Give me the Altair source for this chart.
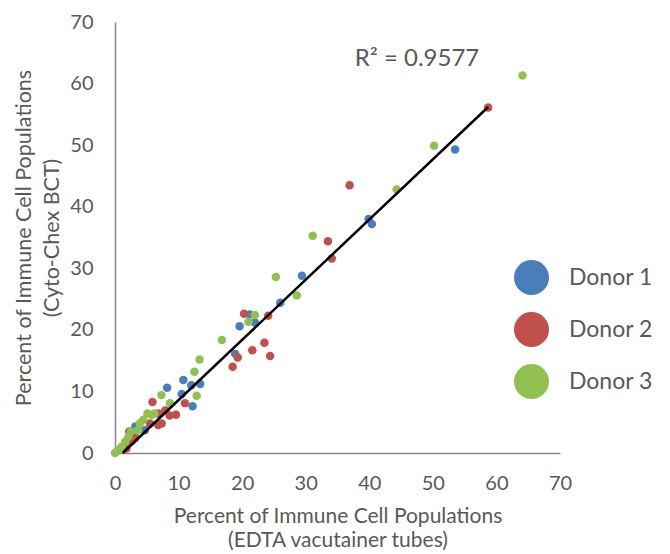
import altair as alt
import pandas as pd

donors = ["Donor 1", "Donor 2", "Donor 3"]
colors = ["#4A7EBB", "#C0504D", "#92C050"]

d1_x = [53.5, 39.9, 40.4, 29.4, 26.0, 21.2, 22.0, 19.6, 18.9, 10.75, 12.0, 13.4, 8.2, 10.5, 12.2, 3.2, 4.7]
d1_y = [49.3, 38.0, 37.2, 28.8, 24.4, 22.5, 21.2, 20.6, 16.1, 11.85, 11.0, 11.2, 10.6, 9.6, 7.6, 4.3, 3.7]

d2_x = [58.7, 36.9, 33.5, 34.1, 20.3, 24.1, 23.5, 21.6, 24.4, 19.3, 18.5, 5.9, 11.0, 7.9, 9.6, 8.6, 6.8,
        7.35, 6.8, 5.5, 2.25, 3.1, 3.15, 2.6, 1.8]
d2_y = [56.1, 43.5, 34.4, 31.6, 22.6, 22.3, 17.9, 16.7, 15.75, 15.5, 14.0, 8.3, 8.1, 6.9, 6.2, 6.1, 6.4,
        4.8, 4.55, 4.8, 3.5, 2.65, 2.4, 1.85, 0.75]

d3_x = [64.1, 50.2, 44.3, 31.1, 25.3, 28.6, 22.0, 21.0, 16.8, 13.3, 12.5, 7.3, 12.85, 8.65, 6.2, 5.1, 5.8,
        4.45, 3.9, 3.6, 2.5, 2.1, 1.6, 1.05, 0.5, 0.0, 0.25]
d3_y = [61.3, 49.9, 42.8, 35.3, 28.6, 25.6, 22.4, 21.3, 18.35, 15.2, 13.2, 9.4, 9.3, 8.1, 6.4, 6.4, 6.2,
        5.4, 4.8, 3.7, 3.5, 2.65, 1.85, 1.0, 0.5, 0.0, 0.2]

trend_x = [1.2, 58.7]
trend_y = [0.0, 56.2]

r2_label = ["R² = 0.9577"]
r2_x = [47.5]
r2_y = [64.0]

axis_ticks = [0, 10, 20, 30, 40, 50, 60, 70]

rows = []
for name, xs, ys in zip(donors, [d1_x, d2_x, d3_x], [d1_y, d2_y, d3_y]):
    for a, b in zip(xs, ys):
        rows.append({"donor": name, "edta": a, "cyto": b})
pts = pd.DataFrame(rows)
trend = pd.DataFrame({"edta": trend_x, "cyto": trend_y})
ann = pd.DataFrame({"label": r2_label, "edta": r2_x, "cyto": r2_y})

FONT = "Lato"
GREY = "#595959"

xscale = alt.Scale(domain=[0, 70], nice=False)
yscale = alt.Scale(domain=[0, 70], nice=False)

xaxis = alt.Axis(values=axis_ticks, grid=False, ticks=False, tickSize=0, labelPadding=20,
                 labelFlush=False,
                 title=["Percent of Immune Cell Populations", "(EDTA vacutainer tubes)"],
                 titlePadding=12, titleLineHeight=24, titleFontSize=21)
yaxis = alt.Axis(values=axis_ticks, grid=False, ticks=False, tickSize=0, labelPadding=22,
                 labelFlush=False,
                 title=["Percent of Immune Cell Populations", "(Cyto-Chex BCT)"],
                 titlePadding=6, titleLineHeight=28)

points = alt.Chart(pts).mark_circle(size=72, opacity=1).encode(
    x=alt.X("edta:Q", scale=xscale, axis=xaxis),
    y=alt.Y("cyto:Q", scale=yscale, axis=yaxis),
    color=alt.Color("donor:N", scale=alt.Scale(domain=donors, range=colors),
                    legend=alt.Legend(title=None, orient="none", legendX=398, legendY=237,
                                      symbolSize=1225, symbolType="circle", symbolOpacity=1,
                                      labelFontSize=23, labelColor=GREY, labelFont=FONT,
                                      labelOffset=19, rowPadding=16, padding=0)),
    order=alt.Order("donor:N"),
)

line = alt.Chart(trend).mark_line(color="black", strokeWidth=2.5).encode(
    x=alt.X("edta:Q", scale=xscale),
    y=alt.Y("cyto:Q", scale=yscale),
)

text = alt.Chart(ann).mark_text(font=FONT, fontSize=24, color=GREY, align="center", baseline="middle").encode(
    x=alt.X("edta:Q", scale=xscale),
    y=alt.Y("cyto:Q", scale=yscale),
    text="label:N",
)

chart = alt.layer(points, line, text).properties(
    width=445, height=431,
    autosize=alt.AutoSizeParams(type="none"),
    padding={"left": 107, "top": 14, "right": 102, "bottom": 100},
).configure_view(stroke=None).configure_axis(
    domainColor="#878787", domainWidth=1.5,
    labelFont=FONT, labelFontSize=20, labelColor=GREY,
    titleFont=FONT, titleFontSize=21.5, titleColor=GREY, titleFontWeight="normal",
)

chart.save("out.html", embed_options={"renderer": "svg", "actions": False})
